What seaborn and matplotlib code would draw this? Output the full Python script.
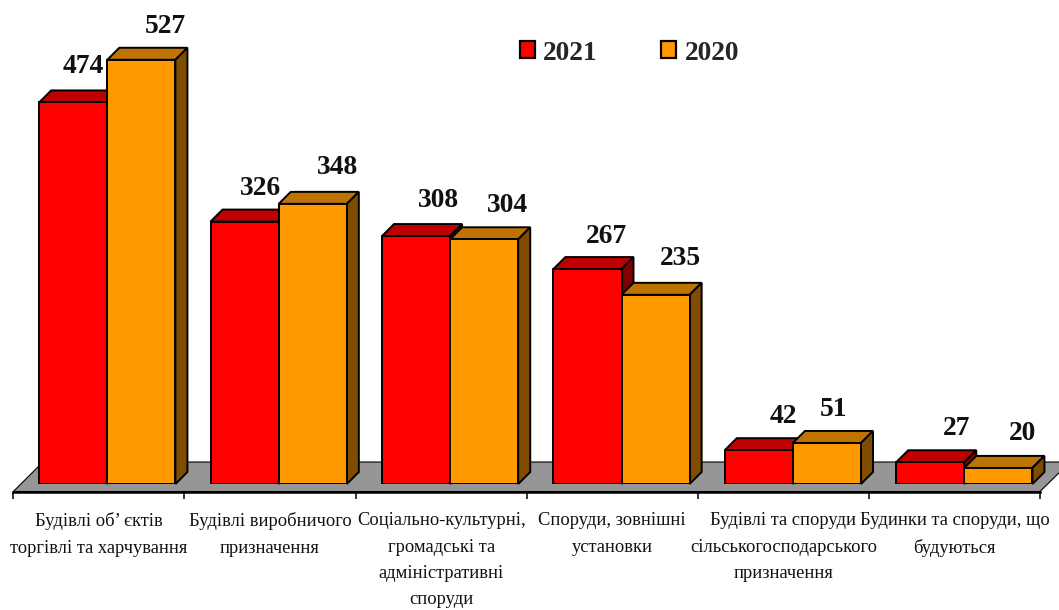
import matplotlib
matplotlib.use("Agg")
import matplotlib.pyplot as plt
import pandas as pd
import seaborn as sns
from matplotlib.patches import Patch, Polygon

# значення з діаграми
categories = [
    "Будівлі об’ єктів\nторгівлі та харчування",
    "Будівлі виробничого\nпризначення",
    "Соціально-культурні,\nгромадські та\nадміністративні\nспоруди",
    "Споруди, зовнішні\nустановки",
    "Будівлі та споруди\nсільськогосподарського\nпризначення",
    "Будинки та споруди, що\nбудуються",
]
series_names = ["2021", "2020"]
values_2021 = [474, 326, 308, 267, 42, 27]
values_2020 = [527, 348, 304, 235, 51, 20]

W, H = 1059, 610
sns.set_theme(style="white")
plt.rcParams["font.family"] = ["Liberation Serif", "DejaVu Serif"]

front_cols = {"2021": "#FF0000", "2020": "#FF9900"}
top_cols = {"2021": "#C00000", "2020": "#BF7300"}
side_cols = {"2021": "#800000", "2020": "#804D00"}

# зсув підписів від центру стовпчика, пікселі
off_2021 = [(10, 36), (16, 33), (22, 36), (19, 33), (24, 34), (26, 34)]
off_2020 = [(24, 33), (25, 36), (23, 34), (25, 36), (7, 33), (24, 34)]


def frac(x, y):
    return x / W, 1 - y / H


def ax_rect(x0, y0, x1, y1):
    return [x0 / W, 1 - y1 / H, (x1 - x0) / W, (y1 - y0) / H]


fig = plt.figure(figsize=(W / 100, H / 100), dpi=100, facecolor="white")

# підлога
floor = [(13.3, 491.5), (1040, 491.5), (1070, 462), (43, 462)]
fig.add_artist(Polygon([frac(*p) for p in floor], closed=True, transform=fig.transFigure,
                       facecolor="#969696", edgecolor="black", linewidth=0.8, zorder=0))

# вісь X з поділками між категоріями
base = fig.add_axes(ax_rect(13.3, 300, 1040, 491.5), facecolor="none")
base.set_xlim(-0.5, 5.5)
base.set_ylim(0, 1)
base.set_yticks([])
for s in ["top", "left", "right"]:
    base.spines[s].set_visible(False)
base.spines["bottom"].set_color("black")
base.spines["bottom"].set_linewidth(1.8)
base.set_xticks([i - 0.5 for i in range(7)])
base.set_xticklabels([])
base.tick_params(axis="x", which="major", bottom=True, length=5, width=1.1, color="black")
base.set_xticks(range(6), minor=True)
base.set_xticklabels(categories, minor=True, fontsize=13.3, linespacing=1.72)
base.tick_params(axis="x", which="minor", bottom=False, length=0, pad=15, colors="#111111")
base.set_zorder(1)

# стовпчики
df = pd.DataFrame({
    "category": categories * 2,
    "year": [series_names[0]] * 6 + [series_names[1]] * 6,
    "value": values_2021 + values_2020,
})
ax = fig.add_axes(ax_rect(21.6, 1, 1050, 484), facecolor="none")
ax.set_zorder(2)
sns.barplot(data=df, x="category", y="value", hue="year", hue_order=series_names,
            palette=front_cols, order=categories, width=0.795, gap=0, saturation=1,
            edgecolor="black", linewidth=1.4, legend=False, ax=ax)
ax.set_xlim(-0.5, 5.5)
ax.set_ylim(0, 600)
ax.axis("off")

dx = 12 / (1028.4 / 6)
dy = 12 / (483 / 600)

offsets = [off_2021, off_2020]
for j, cont in enumerate(ax.containers):
    name = series_names[j]
    for i, bar in enumerate(cont):
        z = 3 + i + j * 0.4
        x0, w, h = bar.get_x(), bar.get_width(), bar.get_height()
        x1 = x0 + w
        top = [(x0, h), (x0 + dx, h + dy), (x1 + dx, h + dy), (x1, h)]
        side = [(x1, 0), (x1 + dx, dy), (x1 + dx, h + dy), (x1, h)]
        ax.add_patch(Polygon(top, closed=True, facecolor=top_cols[name], edgecolor="black",
                             linewidth=1.4, zorder=z, clip_on=False))
        ax.add_patch(Polygon(side, closed=True, facecolor=side_cols[name], edgecolor="black",
                             linewidth=1.4, zorder=z, clip_on=False))
        bar.set_zorder(z + 0.1)
        ox, oy = offsets[j][i]
        ax.annotate(str(int(h)), (x0 + w / 2, h), xytext=(ox, oy), textcoords="offset pixels",
                    ha="center", va="center", fontsize=19.8, fontweight="bold",
                    color="#111111", zorder=20, annotation_clip=False)

# легенда
handles = [Patch(facecolor=front_cols[n], edgecolor="black", linewidth=1.6, label=n)
           for n in series_names]
fig.legend(handles=handles, loc="center left", bbox_to_anchor=frac(520, 53), ncols=2,
           frameon=False, borderpad=0, borderaxespad=0, handlelength=0.55, handleheight=0.55,
           handletextpad=0.3, columnspacing=2.3,
           prop={"weight": "bold", "size": 19.8, "family": "Liberation Serif"})

fig.savefig("out.png", dpi=100)
